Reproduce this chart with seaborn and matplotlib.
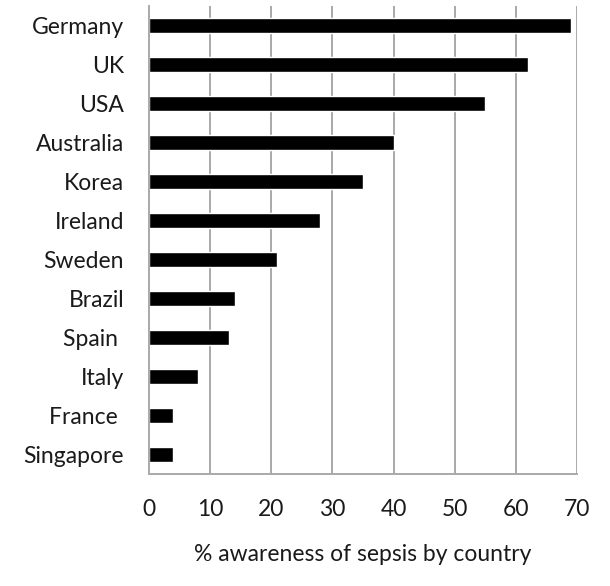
import matplotlib
matplotlib.use('Agg')
import matplotlib.pyplot as plt
import seaborn as sns
import pandas as pd
import numpy as np

countries = ['Germany', 'UK', 'USA', 'Australia', 'Korea', 'Ireland', 'Sweden',
             'Brazil', 'Spain ', 'Italy', 'France ', 'Singapore']
awareness = [69, 62, 55, 40, 35, 28, 21, 14, 13, 8, 4, 4]
xticks = [0, 10, 20, 30, 40, 50, 60, 70]

sns.set_style('white')
plt.rcParams['font.family'] = ['Lato', 'DejaVu Sans']

df = pd.DataFrame({'country': countries, 'awareness': awareness})

fig = plt.figure(figsize=(6.1, 5.86), dpi=100)
ax = fig.add_axes([0.2443, 0.1911, 0.7016, 0.7987])

grid_col = '#a9a9a9'
for x in xticks[1:]:
    ax.axvline(x, color=grid_col, lw=1.4, zorder=0)

sns.barplot(data=df, x='awareness', y='country', orient='h', color='black',
            width=0.4, saturation=1, ax=ax, zorder=2)

fs = 16.5
ax.set_xlim(0, 70)
ax.set_ylim(11.5, -0.5)
ax.set_xticks(xticks)
ax.set_xticklabels([str(x) for x in xticks], fontsize=fs, color='#1a1a1a')
ax.set_yticks(range(len(countries)))
ax.set_yticklabels(countries, fontsize=fs, color='#1a1a1a')
ax.set_yticks(np.arange(-0.5, len(countries), 1), minor=True)
ax.tick_params(axis='y', which='major', length=0, pad=18)
ax.tick_params(axis='y', which='minor', length=6, color=grid_col, width=1.4)
ax.tick_params(axis='x', which='major', length=8, color=grid_col, width=1.4,
               pad=10, direction='out')

ax.set_xlabel('% awareness of sepsis by country', fontsize=fs,
              color='#1a1a1a', labelpad=17)
ax.set_ylabel('')

for s in ['top', 'right']:
    ax.spines[s].set_visible(False)
for s in ['left', 'bottom']:
    ax.spines[s].set_color(grid_col)
    ax.spines[s].set_linewidth(1.4)

fig.savefig('out.png', dpi=100)
